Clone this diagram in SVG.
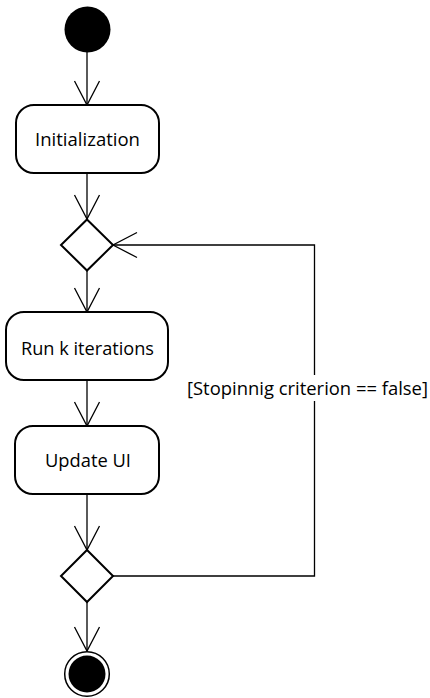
<svg xmlns="http://www.w3.org/2000/svg" width="430" height="698" viewBox="0 0 430 698">
  <style>
    .action { fill: #ffffff; stroke: #000000; stroke-width: 2; }
    .decision { fill: #ffffff; stroke: #000000; stroke-width: 2; stroke-linejoin: miter; }
    .label { font-family: "Open Sans", "Liberation Sans", sans-serif; font-size: 18.5px; fill: #000000; }
    .flow { fill: none; stroke: #000000; stroke-width: 1.3; }
  </style>
  <defs>
    <marker id="open-arrow" markerUnits="userSpaceOnUse" markerWidth="30" markerHeight="30" refX="0" refY="0" orient="auto" overflow="visible">
      <path d="M-24,-12.5 L0,0 L-24,12.5" fill="none" stroke="#000000" stroke-width="1.3"/>
    </marker>
  </defs>
  <rect width="430" height="698" fill="#ffffff"/>

  <!-- control flows -->
  <g id="connectors">
    <path class="flow" d="M87,52 V105" marker-end="url(#open-arrow)"/>
    <path class="flow" d="M87,173 V219" marker-end="url(#open-arrow)"/>
    <path class="flow" d="M87,270 V312" marker-end="url(#open-arrow)"/>
    <path class="flow" d="M87,380 V426" marker-end="url(#open-arrow)"/>
    <path class="flow" d="M87,494 V550" marker-end="url(#open-arrow)"/>
    <path class="flow" d="M87,602 V651" marker-end="url(#open-arrow)"/>
    <path class="flow" d="M113,576 H314.5 V245 H113" marker-end="url(#open-arrow)"/>
    <rect x="186" y="375" width="244" height="26" fill="#ffffff"/>
    <text class="label" x="187" y="394.5" textLength="241" lengthAdjust="spacingAndGlyphs">[Stopinnig criterion == false]</text>
  </g>

  <g id="start">
    <circle cx="87.5" cy="29.5" r="23" fill="#000000"/>
  </g>

  <g id="initialization">
    <rect class="action" x="16" y="105" width="143" height="68" rx="18" ry="18"/>
    <text class="label" x="87.5" y="145.5" text-anchor="middle" textLength="105" lengthAdjust="spacingAndGlyphs">Initialization</text>
  </g>

  <g id="merge">
    <polygon class="decision" points="87,219.5 113,245 87,270.5 61,245"/>
  </g>

  <g id="run-iterations">
    <rect class="action" x="6" y="312" width="162" height="68" rx="18" ry="18"/>
    <text class="label" x="87.5" y="355" text-anchor="middle" textLength="133" lengthAdjust="spacingAndGlyphs">Run k iterations</text>
  </g>

  <g id="update-ui">
    <rect class="action" x="15" y="426" width="144" height="68" rx="18" ry="18"/>
    <text class="label" x="88" y="466.5" text-anchor="middle" textLength="86" lengthAdjust="spacingAndGlyphs">Update UI</text>
  </g>

  <g id="decision">
    <polygon class="decision" points="87,550 113,576 87,602 61,576"/>
  </g>

  <g id="end">
    <circle cx="87" cy="674" r="22.3" fill="#ffffff" stroke="#000000" stroke-width="1.5"/>
    <circle cx="87" cy="674" r="18.5" fill="#000000"/>
  </g>
</svg>
